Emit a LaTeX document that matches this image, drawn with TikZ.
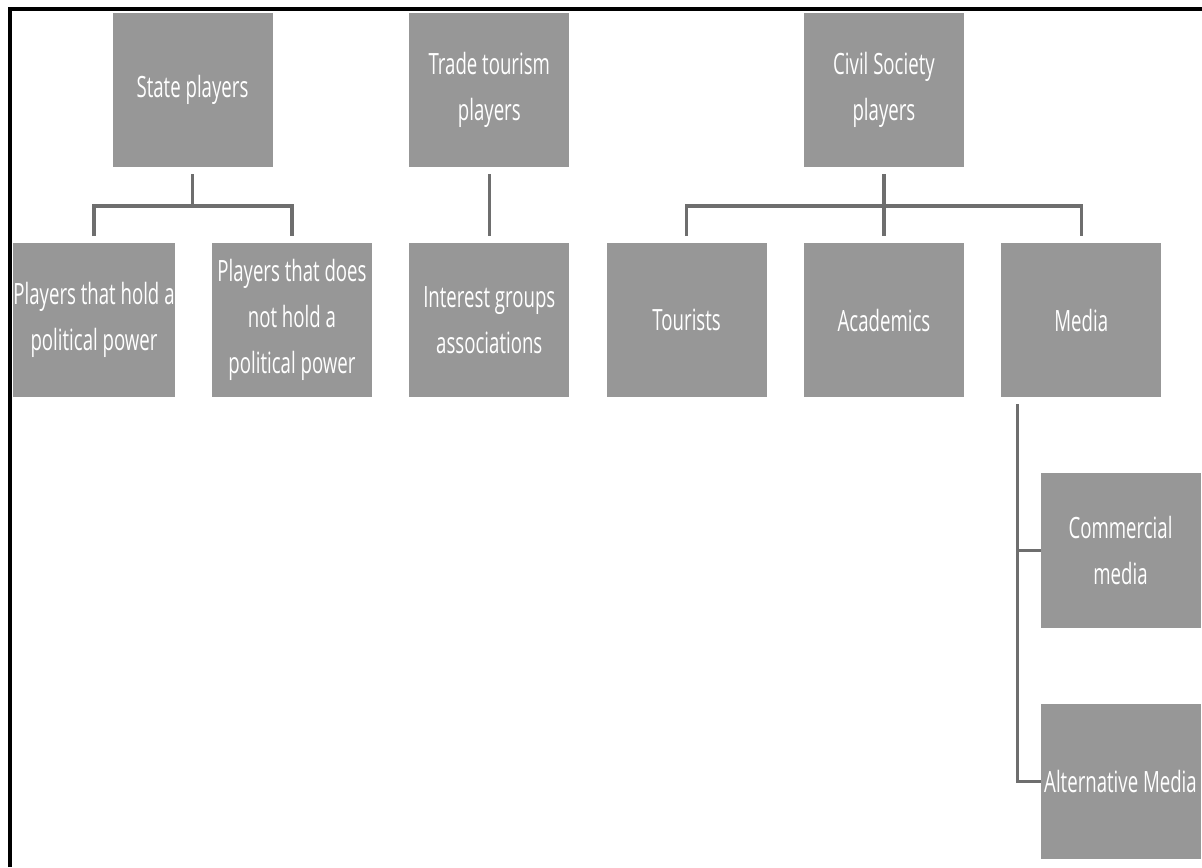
\documentclass[tikz,border=0pt]{standalone}
\usepackage{fontspec}
\setmainfont[FakeStretch=0.635]{Open Sans}
\usepackage{tikz}
\usetikzlibrary{positioning}
\definecolor{boxgray}{RGB}{151, 151, 151}
\definecolor{linegray}{RGB}{110, 110, 110}

\begin{document}
\begin{tikzpicture}[
                x = 0.75pt, y = -0.75pt, % one unit per pixel
                line width = 2.4pt,
                font = \fontsize{22pt}{34.5pt}\selectfont
                ]
                \tikzset{
                    player/.style = {
                        fill = boxgray,
                        text = white,
                        align = center,
                        inner sep = 0pt,
                        outer sep = 0pt,
                        minimum width = 120pt,
                        minimum height = 116pt
                    },
                    link/.style = {draw = linegray}
                }
                \useasboundingbox (0,0) rectangle (1202,867);
                \draw[line width = 3pt] (9.5,867) -- (9.5,9.5) -- (1202,9.5);

                % second row
                \node[player] (hold) at (94,320) {Players that hold a\\political power};
                \node[player] (nohold) [right=28pt of hold] {Players that does\\not hold a\\political power};
                \node[player] (interest) [right=28pt of nohold] {Interest groups\\associations};
                \node[player] (tourists) [right=28pt of interest] {Tourists};
                \node[player] (academics) [right=28pt of tourists] {Academics};
                \node[player] (media) [right=28pt of academics] {Media};

                % top row
                \node[player] (state) at (192.5,90) {State players};
                \node[player] (trade) at (interest |- state) {Trade tourism\\players};
                \node[player] (civil) at (academics |- state) {Civil Society\\players};

                % media branches
                \node[player] (commercial) at (1120.5,550.5) {Commercial\\media};
                \node[player] (alternative) [below=57pt of commercial] {Alternative Media};

                \coordinate (bar) at (0,206);
                \draw[link] ([yshift=-5pt]state.south) -- (state.south |- bar);
                \draw[link] ([yshift=5pt]hold.north) |- (bar -| nohold.north) -- ([yshift=5pt]nohold.north);

                \draw[link] ([yshift=-5pt]trade.south) -- ([yshift=5pt]interest.north);

                \draw[link] ([yshift=-5pt]civil.south) -- ([yshift=5pt]academics.north);
                \draw[link] ([yshift=5pt]tourists.north) |- (bar -| media.north) -- ([yshift=5pt]media.north);

                \coordinate (trunk) at ([xshift=12pt, yshift=-5pt]media.south west);
                \draw[link] (trunk) |- (alternative.west);
                \draw[link] (commercial.west -| trunk) -- (commercial.west);
\end{tikzpicture}
\end{document}
